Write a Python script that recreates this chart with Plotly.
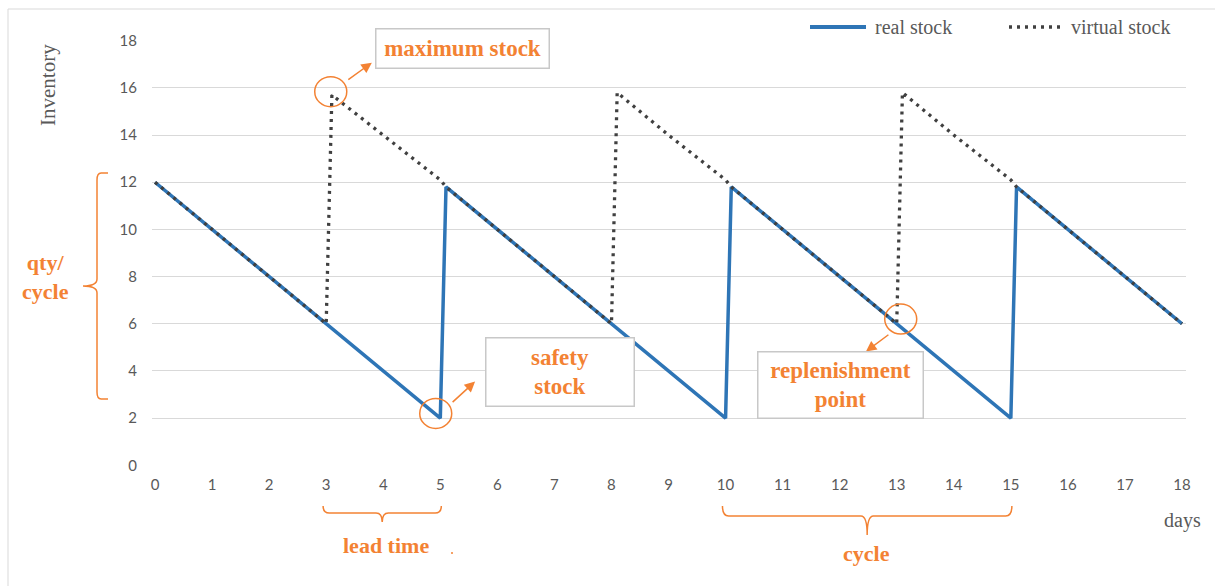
import plotly.graph_objects as go

# ---------------- data ----------------
days_real = [0, 1, 2, 3, 4, 5, 5.1, 6, 7, 8, 9, 10, 10.1, 11, 12, 13, 14, 15, 15.1, 16, 17, 18]
real_stock = [12, 10, 8, 6, 4, 2, 11.8, 10, 8, 6, 4, 2, 11.8, 10, 8, 6, 4, 2, 11.8, 10, 8, 6]

days_virtual = [0, 1, 2, 3, 3.1, 4, 5, 5.1, 6, 7, 8, 8.1, 9, 10, 10.1, 11, 12, 13, 13.1, 14, 15, 15.1, 16, 17, 18]
virtual_stock = [12, 10, 8, 6, 15.7, 14, 12.1, 11.8, 10, 8, 6, 15.8, 14, 12.1, 11.8, 10, 8, 6, 15.8, 14, 12.1, 11.8, 10, 8, 6]

x_ticks = list(range(0, 19))
y_ticks = list(range(0, 19, 2))

# annotation anchors (data coordinates)
max_stock_pt = (3.08, 15.84)
safety_pt = (4.92, 2.2)
replen_pt = (13.07, 6.2)
lead_time_span = (3, 5)
cycle_span = (10, 15)

# ---------------- styling ----------------
W, H = 1215, 586
L, R, T, B = 152, 1186, 40, 466
XR = [-0.053, 18.07]
YR = [-0.03, 18.03]
ORANGE = "#F38233"
GREY_TXT = "#595959"
BLUE = "#2E75B6"
DOTS = "#404040"
SERIF = "Liberation Serif"


def fx(px):
    return (px - L) / (R - L)


def fy(py):
    return (B - py) / (B - T)


def dx(xd):
    return (xd - XR[0]) / (XR[1] - XR[0])


fig = go.Figure()
fig.add_trace(go.Scatter(x=days_real, y=real_stock, mode="lines", name="real stock",
                         line=dict(color=BLUE, width=3.5)))
fig.add_trace(go.Scatter(x=days_virtual, y=virtual_stock, mode="lines", name="virtual stock",
                         line=dict(color=DOTS, width=3.3, dash="3px,5px")))

shapes = []
annotations = []


def label(px, py, text, font, xanchor="center", **kw):
    annotations.append(dict(xref="paper", yref="paper", x=fx(px), y=fy(py), text=text, showarrow=False,
                            xanchor=xanchor, yanchor="middle", font=font, **kw))


# outer frame
shapes.append(dict(type="rect", xref="paper", yref="paper", x0=fx(8), x1=fx(1230), y0=fy(9), y1=fy(600),
                   line=dict(color="#D9D9D9", width=1), layer="below"))

# manual legend
shapes.append(dict(type="line", xref="paper", yref="paper", x0=fx(810), x1=fx(866), y0=fy(27), y1=fy(27),
                   line=dict(color=BLUE, width=4)))
shapes.append(dict(type="line", xref="paper", yref="paper", x0=fx(1009), x1=fx(1060), y0=fy(27), y1=fy(27),
                   line=dict(color=DOTS, width=3.3, dash="3px,5px")))
legend_font = dict(family=SERIF, size=20, color=GREY_TXT)
label(873, 27, "real stock", legend_font, xanchor="left")
label(1069, 27, "virtual stock", legend_font, xanchor="left")

# axis titles
label(48, 85, "Inventory", dict(family=SERIF, size=21, color=GREY_TXT), textangle=-90)
label(1182, 520, "days", dict(family=SERIF, size=20, color=GREY_TXT))

# circles
for (cx, cy) in [max_stock_pt, safety_pt, replen_pt]:
    shapes.append(dict(type="circle", xref="x", yref="y", xsizemode="pixel", ysizemode="pixel",
                       xanchor=cx, yanchor=cy, x0=-16, x1=16, y0=-15, y1=15,
                       line=dict(color=ORANGE, width=1.5)))

# arrows (head at x,y; tail offset in pixels)
arrow_style = dict(showarrow=True, text="", arrowhead=2, arrowsize=1.4, arrowwidth=1.5, arrowcolor=ORANGE,
                   xref="x", yref="y", axref="pixel", ayref="pixel")
annotations.append(dict(x=3.80, y=17.07, ax=-25, ay=18, **arrow_style))
annotations.append(dict(x=5.61, y=3.55, ax=-24, ay=22, **arrow_style))
annotations.append(dict(x=12.46, y=4.82, ax=24, ay=-18, **arrow_style))

# text boxes
box_font = dict(family=SERIF, size=23, color=ORANGE, weight="bold")
box_style = dict(bgcolor="white", bordercolor="#C8C8C8", borderwidth=1.5, borderpad=2)
label(462.5, 48.5, "maximum stock", box_font, width=168, height=34, **box_style)
label(559.5, 371.5, "safety<br>stock", box_font, width=143, height=63, **box_style)
label(840, 384.5, "replenishment<br>point", box_font, width=160, height=61, **box_style)

# brackets
bracket_line = dict(color=ORANGE, width=1.5)
# qty/cycle bracket (vertical)
xv, xt, xm = fx(97), fx(108), fx(83)
y_top, y_bot, y_mid = fy(173), fy(399), fy(286)
cv = fy(173) - fy(180)
path_v = (f"M {xt},{y_top} L {xv+0.004},{y_top} Q {xv},{y_top} {xv},{y_top-cv} "
          f"L {xv},{y_mid+cv} Q {xv},{y_mid} {xm},{y_mid} Q {xv},{y_mid} {xv},{y_mid-cv} "
          f"L {xv},{y_bot+cv} Q {xv},{y_bot} {xv+0.004},{y_bot} L {xt},{y_bot}")
shapes.append(dict(type="path", xref="paper", yref="paper", path=path_v, line=bracket_line))
orange_bold = dict(family=SERIF, size=22, color=ORANGE, weight="bold")
label(45, 277, "qty/<br>cycle", orange_bold)


def h_bracket(x0d, x1d, ybar, yend, ytip):
    a, b = dx(x0d) - 0.003, dx(x1d) + 0.001
    m = (a + b) / 2
    yb, ye, yt = fy(ybar), fy(yend), fy(ytip)
    c = 0.006
    return (f"M {a},{ye} Q {a},{yb} {a+c},{yb} L {m-c},{yb} Q {m},{yb} {m},{yt} "
            f"Q {m},{yb} {m+c},{yb} L {b-c},{yb} Q {b},{yb} {b},{ye}")


shapes.append(dict(type="path", xref="paper", yref="paper",
                   path=h_bracket(lead_time_span[0], lead_time_span[1], 513, 506, 522), line=bracket_line))
shapes.append(dict(type="path", xref="paper", yref="paper",
                   path=h_bracket(cycle_span[0], cycle_span[1], 516, 506, 535), line=bracket_line))
annotations.append(dict(xref="paper", yref="paper", x=dx(sum(lead_time_span) / 2) + 0.003, y=fy(545),
                        text="lead time", showarrow=False, xanchor="center", yanchor="middle", font=orange_bold))
annotations.append(dict(xref="paper", yref="paper", x=dx(sum(cycle_span) / 2) - 0.002, y=fy(553),
                        text="cycle", showarrow=False, xanchor="center", yanchor="middle", font=orange_bold))
# stray dot
shapes.append(dict(type="circle", xref="paper", yref="paper", x0=fx(451), x1=fx(453), y0=fy(552), y1=fy(554),
                   fillcolor=ORANGE, line=dict(width=0)))

fig.update_layout(
    width=W, height=H,
    margin=dict(l=L, r=W - R, t=T, b=H - B, pad=0),
    plot_bgcolor="white", paper_bgcolor="white",
    showlegend=False,
    shapes=shapes, annotations=annotations,
    xaxis=dict(range=XR, tickvals=x_ticks, showgrid=False, zeroline=False, showline=False, ticks="",
               tickfont=dict(family="Lato", size=15, color=GREY_TXT), ticklabelstandoff=8),
    yaxis=dict(range=YR, tickvals=y_ticks, showgrid=True, gridcolor="#D9D9D9", gridwidth=1.2,
               zeroline=False, showline=False, ticks="",
               tickfont=dict(family="Lato", size=15, color=GREY_TXT), ticklabelstandoff=14),
)

fig.write_html("out.html")
